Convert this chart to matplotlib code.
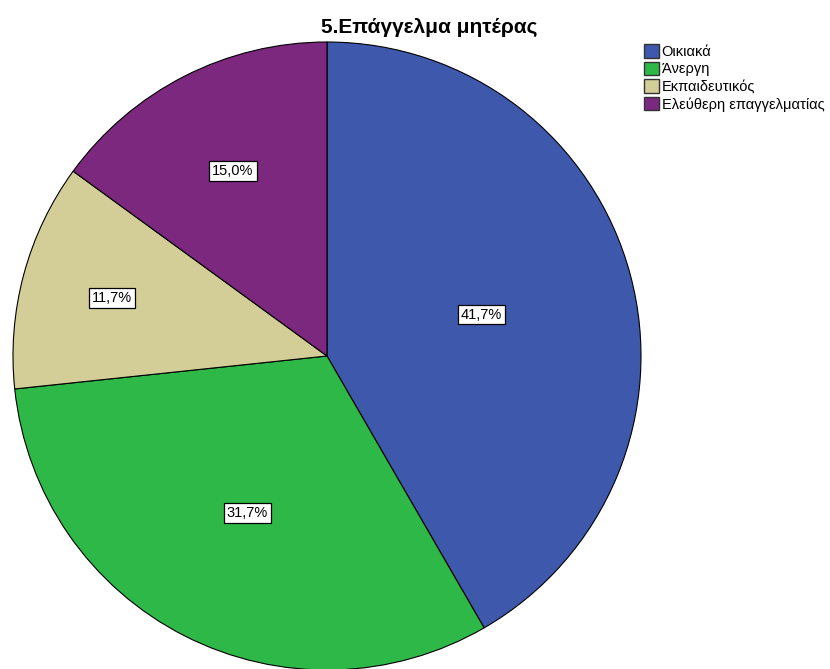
import numpy as np
import matplotlib.pyplot as plt
from matplotlib.patches import Patch

plt.rcParams['font.family'] = ['Liberation Sans', 'DejaVu Sans']

# Mother's occupation - share of respondents (%)
categories = ["Οικιακά", "Άνεργη", "Εκπαιδευτικός", "Ελεύθερη επαγγελματίας"]
shares = [41.7, 31.7, 11.7, 15.0]
colors = ["#3E58AC", "#2EB848", "#D3CE97", "#7B287E"]
label_dist = [0.51, 0.56, 0.71, 0.66]

fig = plt.figure(figsize=(8.30, 6.69), dpi=100)

# pie centre at (327, 356) px, radius 314 px
cx, cy, r = 327, 356, 314
W, H = 830, 669
ax = fig.add_axes([(cx - r) / W, (H - cy - r) / H, 2 * r / W, 2 * r / H])
wedges, _ = ax.pie(shares, colors=colors, startangle=90, counterclock=False,
                   radius=1.0, wedgeprops=dict(edgecolor="black", linewidth=0.8))
ax.set_xlim(-1, 1)
ax.set_ylim(-1, 1)
ax.set_aspect("equal")
ax.axis("off")

# percentage labels in white boxes
for w, val, d in zip(wedges, shares, label_dist):
    mid = np.deg2rad((w.theta1 + w.theta2) / 2)
    ax.text(d * np.cos(mid), d * np.sin(mid), f"{val:.1f}%".replace(".", ","),
            ha="center", va="center", fontsize=10.5,
            bbox=dict(boxstyle="square,pad=0.2", facecolor="white",
                      edgecolor="black", linewidth=0.9))

fig.text(429 / W, 1 - 27 / H, "5.Επάγγελμα μητέρας", ha="center", va="center",
         fontsize=15, fontweight="bold")

handles = [Patch(facecolor=c, edgecolor="#333333", linewidth=1.0) for c in colors]
fig.legend(handles, categories, loc="upper left", bbox_to_anchor=(644 / W, 1 - 44 / H),
           frameon=False, fontsize=10.5, handlelength=1.05, handleheight=1.05,
           handletextpad=0.15, labelspacing=0.2, borderaxespad=0, borderpad=0)

fig.savefig("out.png", dpi=100)
